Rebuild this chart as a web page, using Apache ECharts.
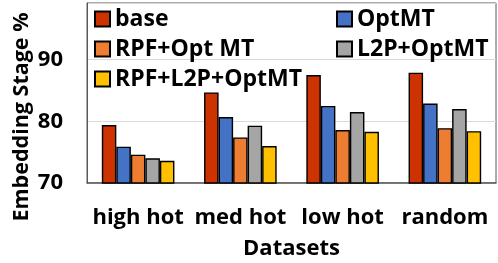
<!DOCTYPE html>
<html><head><meta charset="utf-8">
<script src="https://cdn.jsdelivr.net/npm/echarts@6/dist/echarts.min.js"></script>
<style>html,body{margin:0;padding:0;background:#fff}#c{width:498px;height:263px}</style>
</head><body><div id="c"></div>
<script>
const categories = ['high hot', 'med hot', 'low hot', 'random'];
const seriesNames = ['base', 'OptMT', 'RPF+Opt MT', 'L2P+OptMT', 'RPF+L2P+OptMT'];
const base = [79.4, 84.7, 87.5, 87.9];
const optMT = [75.9, 80.7, 82.5, 82.9];
const rpfOptMT = [74.6, 77.4, 78.6, 78.9];
const l2pOptMT = [74.0, 79.3, 81.5, 82.0];
const rpfL2pOptMT = [73.6, 76.0, 78.3, 78.4];
const yTicks = [70, 80, 90];
const yName = 'Embedding Stage %';
const xName = 'Datasets';

const values = [base, optMT, rpfOptMT, l2pOptMT, rpfL2pOptMT];
const colors = ['#CC3300', '#4472C4', '#ED7D31', '#A5A5A5', '#FFC000'];
const font = 'Open Sans';
const legendText = { fontFamily: font, fontWeight: 'bold', fontSize: 23, color: '#000', lineHeight: 24 };
const chart = echarts.init(document.getElementById('c'));
chart.setOption({
  animation: false,
  grid: { left: 87, right: 2, top: 3, bottom: 80, show: true, borderColor: '#595959', borderWidth: 1,
    backgroundColor: 'transparent', containLabel: false, outerBoundsMode: 'none' },
  legend: [
    { data: [seriesNames[0], seriesNames[2], seriesNames[4]], orient: 'vertical', left: 94, top: 7, itemWidth: 15, itemHeight: 15, itemGap: 6, icon: 'rect', padding: 0,
      textStyle: legendText },
    { data: [seriesNames[1], seriesNames[3]], orient: 'vertical', left: 336, top: 7, itemWidth: 15, itemHeight: 15, itemGap: 6, icon: 'rect', padding: 0,
      textStyle: legendText }
  ],
  xAxis: {
    type: 'category', data: categories,
    name: xName, nameLocation: 'middle', nameGap: 55,
    nameTextStyle: { fontFamily: font, fontWeight: 'bold', fontSize: 22, color: '#000' },
    axisLine: { lineStyle: { color: '#595959', width: 1.5 } },
    axisTick: { show: false },
    axisLabel: { interval: 0, fontFamily: font, fontWeight: 'bold', fontSize: 22, color: '#000', margin: 24 }
  },
  yAxis: {
    type: 'value', min: 70, max: 99.2, interval: 10,
    axisLine: { show: true, lineStyle: { color: '#595959' } },
    axisTick: { show: false },
    splitLine: { lineStyle: { color: '#D9D9D9', width: 1 } },
    axisLabel: { fontFamily: font, fontWeight: 'bold', fontSize: 22, color: '#000', margin: 24,
      formatter: v => (yTicks.indexOf(v) >= 0 ? String(v) : '') }
  },
  graphic: [{
    type: 'text', x: 22, y: 117, rotation: Math.PI / 2,
    style: { text: yName, fontFamily: font, fontWeight: 'bold', fontSize: 21.5, fill: '#000', textAlign: 'center', textVerticalAlign: 'middle' }
  }],
  series: seriesNames.map((n, i) => ({
    name: n, type: 'bar', data: values[i], barGap: '0%', barCategoryGap: '29%',
    itemStyle: { color: colors[i], borderColor: '#000', borderWidth: 1.4 }
  }))
});
</script></body></html>
